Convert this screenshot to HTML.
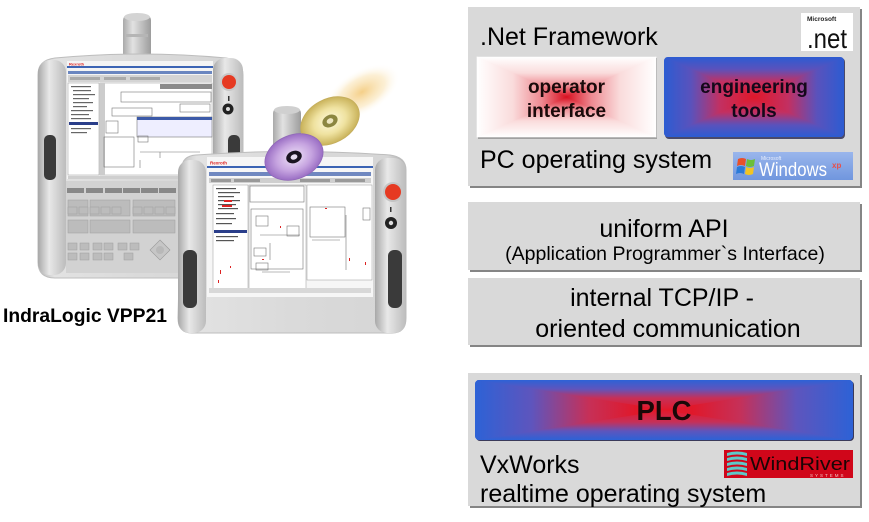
<!DOCTYPE html>
<html><head><meta charset="utf-8"><style>
html,body{margin:0;padding:0;background:#fff;}
svg{display:block;}
text{font-family:"Liberation Sans",Arial,sans-serif;}
</style></head><body>
<svg width="869" height="522" viewBox="0 0 869 522" xmlns="http://www.w3.org/2000/svg">
<defs>
  <!-- white to red -->
  <linearGradient id="opT" gradientUnits="userSpaceOnUse" x1="0" y1="57" x2="0" y2="97"><stop offset="0" stop-color="#fff"/><stop offset="0.4" stop-color="#fadcdc"/><stop offset="0.72" stop-color="#ee8a92"/><stop offset="1" stop-color="#d81020"/></linearGradient>
  <linearGradient id="opB" gradientUnits="userSpaceOnUse" x1="0" y1="137" x2="0" y2="97"><stop offset="0" stop-color="#fff"/><stop offset="0.4" stop-color="#fadcdc"/><stop offset="0.72" stop-color="#ee8a92"/><stop offset="1" stop-color="#d81020"/></linearGradient>
  <linearGradient id="opL" gradientUnits="userSpaceOnUse" x1="477" y1="0" x2="566.5" y2="0"><stop offset="0" stop-color="#fff"/><stop offset="0.4" stop-color="#fadcdc"/><stop offset="0.72" stop-color="#ee8a92"/><stop offset="1" stop-color="#d81020"/></linearGradient>
  <linearGradient id="opR" gradientUnits="userSpaceOnUse" x1="656" y1="0" x2="566.5" y2="0"><stop offset="0" stop-color="#fff"/><stop offset="0.4" stop-color="#fadcdc"/><stop offset="0.72" stop-color="#ee8a92"/><stop offset="1" stop-color="#d81020"/></linearGradient>
  <!-- blue to red engineering -->
  <linearGradient id="enT" gradientUnits="userSpaceOnUse" x1="0" y1="57" x2="0" y2="97"><stop offset="0" stop-color="#2c5cd2"/><stop offset="0.3" stop-color="#5a52bc"/><stop offset="0.62" stop-color="#c23062"/><stop offset="1" stop-color="#e0182a"/></linearGradient>
  <linearGradient id="enB" gradientUnits="userSpaceOnUse" x1="0" y1="137" x2="0" y2="97"><stop offset="0" stop-color="#2c5cd2"/><stop offset="0.3" stop-color="#5a52bc"/><stop offset="0.62" stop-color="#c23062"/><stop offset="1" stop-color="#e0182a"/></linearGradient>
  <linearGradient id="enL" gradientUnits="userSpaceOnUse" x1="664" y1="0" x2="754" y2="0"><stop offset="0" stop-color="#2c5cd2"/><stop offset="0.3" stop-color="#5a52bc"/><stop offset="0.62" stop-color="#c23062"/><stop offset="1" stop-color="#e0182a"/></linearGradient>
  <linearGradient id="enR" gradientUnits="userSpaceOnUse" x1="844" y1="0" x2="754" y2="0"><stop offset="0" stop-color="#2c5cd2"/><stop offset="0.3" stop-color="#5a52bc"/><stop offset="0.62" stop-color="#c23062"/><stop offset="1" stop-color="#e0182a"/></linearGradient>
  <!-- PLC -->
  <linearGradient id="plT" gradientUnits="userSpaceOnUse" x1="0" y1="380" x2="0" y2="410"><stop offset="0" stop-color="#2d62d6"/><stop offset="0.3" stop-color="#5e55bd"/><stop offset="0.6" stop-color="#c63058"/><stop offset="1" stop-color="#e2182a"/></linearGradient>
  <linearGradient id="plB" gradientUnits="userSpaceOnUse" x1="0" y1="440" x2="0" y2="410"><stop offset="0" stop-color="#2d62d6"/><stop offset="0.3" stop-color="#5e55bd"/><stop offset="0.6" stop-color="#c63058"/><stop offset="1" stop-color="#e2182a"/></linearGradient>
  <linearGradient id="plL" gradientUnits="userSpaceOnUse" x1="475" y1="0" x2="664" y2="0"><stop offset="0" stop-color="#2d62d6"/><stop offset="0.3" stop-color="#5e55bd"/><stop offset="0.6" stop-color="#c63058"/><stop offset="0.85" stop-color="#e0182a"/><stop offset="1" stop-color="#e2182a"/></linearGradient>
  <linearGradient id="plR" gradientUnits="userSpaceOnUse" x1="853" y1="0" x2="664" y2="0"><stop offset="0" stop-color="#2d62d6"/><stop offset="0.3" stop-color="#5e55bd"/><stop offset="0.6" stop-color="#c63058"/><stop offset="0.85" stop-color="#e0182a"/><stop offset="1" stop-color="#e2182a"/></linearGradient>

  <linearGradient id="body" x1="0" y1="0" x2="1" y2="0"><stop offset="0" stop-color="#b9b9b9"/><stop offset="0.08" stop-color="#e2e2e2"/><stop offset="0.5" stop-color="#dadada"/><stop offset="0.92" stop-color="#d6d6d6"/><stop offset="1" stop-color="#aaaaaa"/></linearGradient>
  <linearGradient id="pillar" x1="0" y1="0" x2="1" y2="0"><stop offset="0" stop-color="#a8a8a8"/><stop offset="0.4" stop-color="#e8e8e8"/><stop offset="1" stop-color="#bcbcbc"/></linearGradient>
  <linearGradient id="cyl" x1="0" y1="0" x2="1" y2="0"><stop offset="0" stop-color="#a9a9a9"/><stop offset="0.35" stop-color="#e2e2e2"/><stop offset="1" stop-color="#9c9c9c"/></linearGradient>
  <radialGradient id="glow" cx="0.5" cy="0.5" r="0.5"><stop offset="0" stop-color="#f2c36a" stop-opacity="0.8"/><stop offset="0.6" stop-color="#f8dca0" stop-opacity="0.45"/><stop offset="1" stop-color="#fff" stop-opacity="0"/></radialGradient>
  <radialGradient id="cdY" cx="0.5" cy="0.5" r="0.5"><stop offset="0" stop-color="#fffbe0"/><stop offset="0.55" stop-color="#efe2a0"/><stop offset="1" stop-color="#c9b25a"/></radialGradient>
  <radialGradient id="cdP" cx="0.5" cy="0.5" r="0.5"><stop offset="0" stop-color="#f0e4f8"/><stop offset="0.6" stop-color="#c6a4e0"/><stop offset="1" stop-color="#9a6ec4"/></radialGradient>
  <linearGradient id="win" x1="0" y1="0" x2="0" y2="1"><stop offset="0" stop-color="#9ab6ec"/><stop offset="1" stop-color="#7096de"/></linearGradient>
  <clipPath id="enClip"><rect x="664" y="57" width="180" height="80" rx="4"/></clipPath>
  <clipPath id="plClip"><rect x="475" y="380" width="378" height="60" rx="4"/></clipPath>
</defs>

<!-- ================= LEFT: devices ================= -->
<!-- Device 1 -->
<rect x="123" y="15" width="28" height="44" rx="5" fill="url(#cyl)"/>
<ellipse cx="137" cy="17" rx="13" ry="4" fill="#d4d4d4"/>
<rect x="126" y="34" width="22" height="3" fill="#b5b5b5"/>
<path d="M38,75 Q38,60 55,58 Q140,50 226,58 Q243,60 243,75 L243,262 Q243,278 226,278 L55,278 Q38,278 38,262 Z" fill="url(#body)" stroke="#bdbdbd" stroke-width="1"/>
<rect x="213" y="58" width="30" height="215" rx="12" fill="url(#pillar)"/>
<rect x="38" y="60" width="28" height="215" rx="12" fill="url(#pillar)"/>
<rect x="44" y="135" width="12" height="45" rx="5" fill="#3a3a3a"/>
<rect x="228" y="135" width="12" height="25" rx="5" fill="#3a3a3a"/>
<circle cx="229" cy="82" r="9" fill="#c8c8c8"/>
<circle cx="229" cy="82" r="7" fill="#e63a22"/>
<rect x="228" y="96" width="1.5" height="5" fill="#333"/>
<circle cx="228" cy="109" r="5.5" fill="#222"/>
<circle cx="228" cy="109" r="2" fill="#ddd"/>
<!-- screen 1 -->
<rect x="67" y="61" width="146" height="118" fill="#f4f4f4"/>
<text x="69" y="65.5" font-size="4" fill="#d22" font-weight="bold">Rexroth</text>
<rect x="67" y="66" width="146" height="2" fill="#3c64b4"/>
<rect x="68" y="71" width="144" height="3" fill="#6a86c0"/>
<rect x="68" y="75" width="144" height="7" fill="#d4d4d4"/>
<rect x="70" y="77" width="30" height="3" fill="#aaa"/>
<rect x="104" y="77" width="22" height="3" fill="#aaa"/>
<rect x="130" y="77" width="30" height="3" fill="#aaa"/>
<rect x="68" y="83" width="31" height="92" fill="#fff" stroke="#999" stroke-width="0.5"/>
<rect x="69" y="122" width="29" height="3" fill="#2a3e8a"/>
<g fill="#666"><rect x="71" y="86" width="20" height="1.2"/><rect x="73" y="90" width="18" height="1.2"/><rect x="73" y="94" width="22" height="1.2"/><rect x="73" y="98" width="16" height="1.2"/><rect x="73" y="102" width="20" height="1.2"/><rect x="73" y="106" width="14" height="1.2"/><rect x="71" y="110" width="22" height="1.2"/><rect x="71" y="114" width="18" height="1.2"/><rect x="71" y="118" width="20" height="1.2"/><rect x="71" y="128" width="20" height="1.2"/><rect x="71" y="132" width="16" height="1.2"/></g>
<rect x="100" y="83" width="112" height="92" fill="#fff" stroke="#999" stroke-width="0.5"/>
<rect x="160" y="84" width="52" height="5" fill="#8a8a8a"/>
<rect x="100" y="83" width="5" height="92" fill="#ccc"/>
<g fill="none" stroke="#777" stroke-width="0.6">
<rect x="121" y="92" width="90" height="10"/><rect x="112" y="108" width="40" height="8"/><rect x="180" y="104" width="30" height="8"/>
<rect x="137" y="117" width="75" height="20" fill="#eef"/><rect x="106" y="121" width="12" height="12"/><rect x="138" y="136" width="10" height="6"/>
<rect x="104" y="137" width="30" height="30"/><path d="M140,152 H200 M140,160 V168 M160,152 V158"/></g>
<rect x="137" y="117" width="75" height="3" fill="#3c5aa8"/>
<rect x="68" y="176" width="144" height="3" fill="#cfcfcf"/>
<!-- keypad 1 -->
<rect x="66" y="181" width="148" height="92" fill="#d2d2d2"/>
<g fill="#888"><rect x="67" y="188" width="17" height="5"/><rect x="86" y="188" width="17" height="5"/><rect x="105" y="188" width="17" height="5"/><rect x="123" y="188" width="17" height="5"/><rect x="141" y="188" width="17" height="5"/><rect x="159" y="188" width="17" height="5"/></g>
<g fill="#bcbcbc" stroke="#9e9e9e" stroke-width="0.5">
<rect x="68" y="200" width="20" height="16"/><rect x="90" y="200" width="40" height="16"/><rect x="133" y="200" width="42" height="16"/>
<rect x="68" y="207" width="9" height="7"/><rect x="79" y="207" width="9" height="7"/><rect x="90" y="207" width="9" height="7"/><rect x="101" y="207" width="9" height="7"/><rect x="112" y="207" width="9" height="7"/><rect x="133" y="207" width="9" height="7"/><rect x="144" y="207" width="9" height="7"/><rect x="155" y="207" width="9" height="7"/><rect x="166" y="207" width="9" height="7"/>
<rect x="68" y="220" width="20" height="13"/><rect x="90" y="220" width="40" height="13"/><rect x="133" y="220" width="42" height="13"/>
<rect x="68" y="243" width="9" height="7"/><rect x="80" y="243" width="9" height="7"/><rect x="93" y="243" width="9" height="7"/><rect x="104" y="243" width="9" height="7"/><rect x="118" y="243" width="9" height="7"/><rect x="130" y="243" width="9" height="7"/>
<rect x="68" y="253" width="9" height="7"/><rect x="80" y="253" width="9" height="7"/><rect x="93" y="253" width="9" height="7"/><rect x="104" y="253" width="9" height="7"/><rect x="124" y="253" width="9" height="7"/></g>
<path d="M160,240 L170,250 L160,260 L150,250 Z" fill="#c6c6c6" stroke="#999" stroke-width="0.6"/>
<circle cx="160" cy="250" r="4" fill="#b8b8b8"/>

<!-- glow & CDs behind device 2 handle -->
<ellipse cx="362" cy="92" rx="42" ry="22" transform="rotate(-30 362 92)" fill="url(#glow)"/>
<!-- Device 2 -->
<rect x="273" y="108" width="28" height="48" rx="5" fill="url(#cyl)"/>
<ellipse cx="287" cy="110" rx="13" ry="4" fill="#d0d0d0"/>
<path d="M182,168 Q182,156 196,155 Q290,148 390,155 Q406,157 406,170 L406,318 Q406,333 392,333 L192,333 Q178,333 178,318 Z" fill="url(#body)" stroke="#bdbdbd" stroke-width="1"/>
<rect x="178" y="160" width="28" height="173" rx="12" fill="url(#pillar)"/>
<rect x="375" y="158" width="31" height="175" rx="12" fill="url(#pillar)"/>
<rect x="183" y="250" width="14" height="58" rx="6" fill="#3a3a3a"/>
<rect x="388" y="250" width="14" height="58" rx="6" fill="#3a3a3a"/>
<circle cx="393" cy="192" r="10" fill="#c4c4c4"/>
<circle cx="393" cy="192" r="8" fill="#e63a22"/>
<rect x="390" y="207" width="1.5" height="5" fill="#333"/>
<circle cx="391" cy="223" r="6" fill="#222"/>
<circle cx="391" cy="223" r="2.2" fill="#ddd"/>
<!-- screen 2 -->
<rect x="207" y="157" width="166" height="140" fill="#f6f6f6"/>
<text x="210" y="164.5" font-size="4.5" fill="#d22" font-weight="bold">Rexroth</text>
<rect x="207" y="166" width="166" height="2" fill="#3c64b4"/>
<rect x="209" y="172" width="162" height="4" fill="#7088c0"/>
<rect x="209" y="178" width="162" height="5" fill="#cfcfcf"/>
<g fill="#999"><rect x="211" y="179" width="20" height="3"/><rect x="234" y="179" width="26" height="3"/><rect x="300" y="179" width="30" height="3"/><rect x="335" y="179" width="30" height="3"/></g>
<rect x="213" y="185" width="35" height="105" fill="#fff" stroke="#999" stroke-width="0.5"/>
<rect x="214" y="230" width="33" height="3" fill="#2a3e8a"/>
<g fill="#555"><rect x="216" y="188" width="20" height="1.2"/><rect x="218" y="192" width="22" height="1.2"/><rect x="218" y="196" width="16" height="1.2"/><rect x="218" y="200" width="22" height="1.2"/><rect x="218" y="204" width="18" height="1.2"/><rect x="218" y="208" width="20" height="1.2"/><rect x="216" y="213" width="18" height="1.2"/><rect x="216" y="218" width="20" height="1.2"/><rect x="216" y="223" width="16" height="1.2"/><rect x="216" y="236" width="22" height="1.2"/><rect x="216" y="240" width="18" height="1.2"/></g>
<g fill="#d22"><rect x="224" y="200" width="8" height="2"/><rect x="222" y="205" width="10" height="2"/><rect x="220" y="270" width="1" height="4"/><rect x="218" y="280" width="1" height="3"/><rect x="230" y="266" width="1" height="2"/></g>
<rect x="249" y="185" width="57" height="105" fill="#fff" stroke="#999" stroke-width="0.5"/>
<rect x="307" y="185" width="65" height="95" fill="#fff" stroke="#999" stroke-width="0.5"/>
<g fill="none" stroke="#777" stroke-width="0.6">
<rect x="250" y="186" width="54" height="16"/><rect x="251" y="209" width="52" height="60"/><rect x="256" y="216" width="12" height="10"/><rect x="254" y="248" width="12" height="8"/><rect x="287" y="226" width="12" height="10"/><rect x="256" y="263" width="12" height="7"/>
<path d="M260,235 H300 M270,243 V260 M262,272 H290"/>
<rect x="310" y="207" width="35" height="30"/><rect x="363" y="208" width="7" height="12"/><path d="M346,215 V270 M312,240 H340"/></g>
<g fill="#d22"><rect x="280" y="226" width="1" height="2"/><rect x="262" y="259" width="2" height="1"/><rect x="349" y="258" width="1" height="3"/><rect x="365" y="262" width="1" height="3"/><rect x="325" y="208" width="2" height="1"/></g>
<rect x="209" y="288" width="162" height="5" fill="#d8d8d8"/>

<!-- CDs -->
<ellipse cx="330" cy="121" rx="31" ry="22" transform="rotate(-28 330 121)" fill="url(#cdY)" stroke="#c4ad5c" stroke-width="0.8"/>
<ellipse cx="330" cy="121" rx="8" ry="6" transform="rotate(-28 330 121)" fill="#8c8640"/>
<ellipse cx="330" cy="121" rx="3.5" ry="2.6" transform="rotate(-28 330 121)" fill="#eee6c0"/>
<ellipse cx="294" cy="157" rx="30" ry="22" transform="rotate(-22 294 157)" fill="url(#cdP)" stroke="#9068b8" stroke-width="0.8"/>
<ellipse cx="294" cy="157" rx="8" ry="6" transform="rotate(-22 294 157)" fill="#1a1420"/>
<ellipse cx="294" cy="157" rx="3.5" ry="2.6" transform="rotate(-22 294 157)" fill="#e6dcef"/>

<text x="3" y="322" font-size="19.3" font-weight="bold" fill="#000">IndraLogic VPP21</text>

<!-- ================= RIGHT: layer boxes ================= -->
<!-- Box 1 -->
<rect x="470" y="9" width="392" height="179" fill="#858585"/>
<rect x="468" y="7" width="392" height="179" fill="#d9d9d9"/>
<text x="480" y="45" font-size="25" fill="#000">.Net Framework</text>
<!-- .net logo -->
<rect x="801" y="13" width="52" height="38" fill="#fff"/>
<text x="807" y="21" font-size="6.5" font-weight="bold" fill="#222">Microsoft</text>
<text x="807" y="48" font-size="28" fill="#111" textLength="40" lengthAdjust="spacingAndGlyphs">.net</text>
<!-- operator box -->
<rect x="478" y="58" width="179" height="81" fill="#a0a0a0"/>
<g>
<path d="M477,57 L656,57 L566.5,97 Z" fill="url(#opT)" stroke="url(#opT)" stroke-width="0.6"/>
<path d="M477,137 L656,137 L566.5,97 Z" fill="url(#opB)" stroke="url(#opB)" stroke-width="0.6"/>
<path d="M477,57 L477,137 L566.5,97 Z" fill="url(#opL)" stroke="url(#opL)" stroke-width="0.6"/>
<path d="M656,57 L656,137 L566.5,97 Z" fill="url(#opR)" stroke="url(#opR)" stroke-width="0.6"/>
</g>
<text x="566.5" y="93" font-size="19" font-weight="bold" text-anchor="middle" fill="#1a0a0a">operator</text>
<text x="566.5" y="117" font-size="19" font-weight="bold" text-anchor="middle" fill="#1a0a0a">interface</text>
<!-- engineering box -->
<rect x="665" y="58" width="180" height="81" rx="4" fill="#4a4a6a"/>
<g clip-path="url(#enClip)">
<path d="M664,57 L844,57 L754,97 Z" fill="url(#enT)" stroke="url(#enT)" stroke-width="0.6"/>
<path d="M664,137 L844,137 L754,97 Z" fill="url(#enB)" stroke="url(#enB)" stroke-width="0.6"/>
<path d="M664,57 L664,137 L754,97 Z" fill="url(#enL)" stroke="url(#enL)" stroke-width="0.6"/>
<path d="M844,57 L844,137 L754,97 Z" fill="url(#enR)" stroke="url(#enR)" stroke-width="0.6"/>
</g>
<text x="754" y="93" font-size="19" font-weight="bold" text-anchor="middle" fill="#14081a">engineering</text>
<text x="754" y="117" font-size="19" font-weight="bold" text-anchor="middle" fill="#14081a">tools</text>
<text x="480" y="168" font-size="25" fill="#000">PC operating system</text>
<!-- windows logo -->
<rect x="733" y="152" width="120" height="28" fill="url(#win)"/>
<g transform="translate(737,156)">
<path d="M1,3 Q5,1 9,3 L8,10 Q4,8 0,10 Z" fill="#e8502a"/>
<path d="M10,3 Q14,5 18,3 L17,10 Q13,12 9,10 Z" fill="#6bbf3a"/>
<path d="M0,11 Q4,9 8,11 L7,18 Q3,16 -1,18 Z" fill="#2a7ad8"/>
<path d="M9,11 Q13,13 17,11 L16,18 Q12,20 8,18 Z" fill="#f2c422"/>
</g>
<text x="761" y="160" font-size="5" fill="#e8eefc">Microsoft</text>
<text x="759" y="176" font-size="19" fill="#fff" textLength="68" lengthAdjust="spacingAndGlyphs">Windows</text>
<text x="832" y="168" font-size="8" font-weight="bold" fill="#e8504a">xp</text>

<!-- Box 2 -->
<rect x="470" y="204" width="392" height="68" fill="#858585"/>
<rect x="468" y="202" width="392" height="68" fill="#d9d9d9"/>
<text x="664" y="237" font-size="25" text-anchor="middle" fill="#000">uniform API</text>
<text x="665" y="260" font-size="19.5" text-anchor="middle" fill="#000">(Application Programmer`s Interface)</text>

<!-- Box 3 -->
<rect x="470" y="280" width="392" height="67" fill="#858585"/>
<rect x="468" y="278" width="392" height="67" fill="#d9d9d9"/>
<text x="662" y="306" font-size="25" text-anchor="middle" fill="#000">internal TCP/IP -</text>
<text x="668" y="337" font-size="25" text-anchor="middle" fill="#000">oriented communication</text>

<!-- Box 4 -->
<rect x="470" y="375" width="392" height="133" fill="#858585"/>
<rect x="468" y="373" width="392" height="133" fill="#d9d9d9"/>
<rect x="476" y="381" width="378" height="60" rx="4" fill="#3a3a5a"/>
<g clip-path="url(#plClip)">
<path d="M475,380 L853,380 L664,410 Z" fill="url(#plT)" stroke="url(#plT)" stroke-width="0.6"/>
<path d="M475,440 L853,440 L664,410 Z" fill="url(#plB)" stroke="url(#plB)" stroke-width="0.6"/>
<path d="M475,380 L475,440 L664,410 Z" fill="url(#plL)" stroke="url(#plL)" stroke-width="0.6"/>
<path d="M853,380 L853,440 L664,410 Z" fill="url(#plR)" stroke="url(#plR)" stroke-width="0.6"/>
</g>
<text x="664" y="420" font-size="27.5" font-weight="bold" text-anchor="middle" fill="#1a0808">PLC</text>
<text x="480" y="473" font-size="25" fill="#000">VxWorks</text>
<text x="480" y="502" font-size="25" fill="#000">realtime operating system</text>
<!-- WindRiver logo -->
<rect x="724" y="450" width="129" height="28" fill="#d0061a"/>
<g fill="#5ec8c8">
<path d="M727,453 Q737,450 747,453 L747,456 Q737,453 727,456 Z"/>
<path d="M727,458 Q737,455 747,458 L747,461 Q737,458 727,461 Z"/>
<path d="M727,463 Q737,460 747,463 L747,466 Q737,463 727,466 Z"/>
<path d="M727,468 Q737,465 747,468 L747,471 Q737,468 727,471 Z"/>
<path d="M727,473 Q737,470 747,473 L747,476 Q737,473 727,476 Z"/>
</g>
<text x="750" y="470" font-size="18" fill="#1a0505" font-family="Liberation Serif, serif" textLength="100" lengthAdjust="spacingAndGlyphs">WindRiver</text>
<text x="810" y="477" font-size="4.5" fill="#f0c0c0" letter-spacing="2">SYSTEMS</text>
</svg>
</body></html>
